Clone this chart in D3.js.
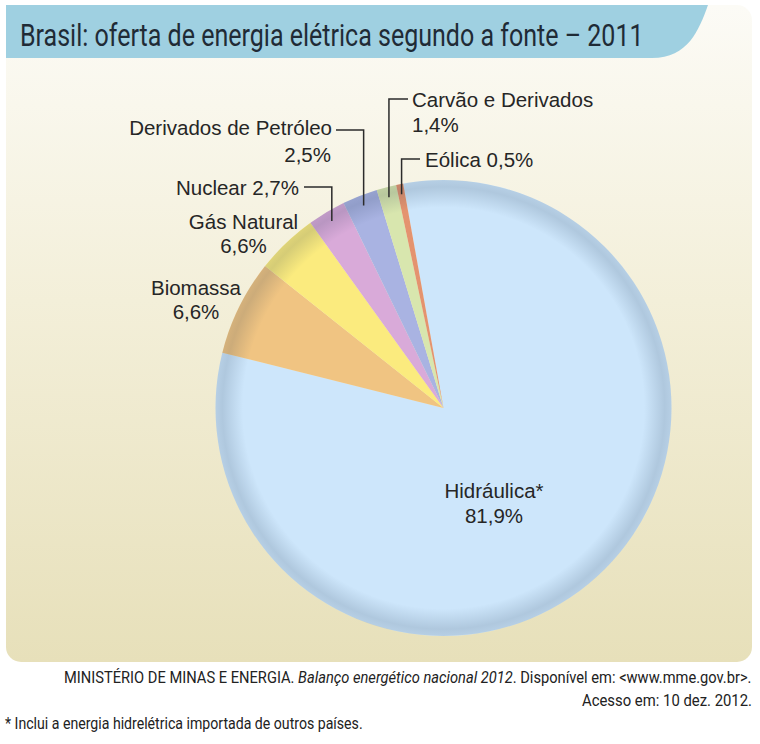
<!DOCTYPE html>
<html><head><meta charset="utf-8">
<script src="https://cdn.jsdelivr.net/npm/d3@7"></script>
<style>
html,body{margin:0;padding:0;background:#fff;}
svg{display:block;}
</style></head>
<body>
<script>
// ---- data ----
const sources = ["Hidráulica*", "Biomassa", "Gás Natural", "Nuclear", "Derivados de Petróleo", "Carvão e Derivados", "Eólica"];
const shares = [81.9, 6.8, 4.4, 2.7, 2.5, 1.4, 0.5];           // slice sizes
const shareLabels = ["81,9%", "6,6%", "6,6%", "2,7%", "2,5%", "1,4%", "0,5%"]; // printed texts
const colors = ["#cde6fb", "#f0c482", "#fbeb7e", "#d9aad9", "#a9b3e2", "#d8e6ae", "#e4936f"];
const title = "Brasil: oferta de energia elétrica segundo a fonte – 2011";
const sourceNote = ["MINISTÉRIO DE MINAS E ENERGIA. ", "Balanço energético nacional 2012", ". Disponível em: <www.mme.gov.br>."];
const accessNote = "Acesso em: 10 dez. 2012.";
const footNote = "* Inclui a energia hidrelétrica importada de outros países.";

// ---- layout ----
const W = 760, H = 744;
const cx = 443.5, cy = 408, R = 228;
const startDeg = -10.2;
const labelFont = "'Liberation Sans', Arimo, Arial, Helvetica, sans-serif";
const condFont = "'Roboto', 'DejaVu Sans', sans-serif";
const labelLayout = {
  "Hidráulica*": {lines: [[494, 498, "middle", 0], [494, 523, "middle", 1]]},
  "Biomassa": {lines: [[196, 295, "middle", 0], [196, 319, "middle", 1]]},
  "Gás Natural": {lines: [[243.5, 229, "middle", 0], [243.5, 253, "middle", 1]]},
  "Nuclear": {lines: [[299, 195, "end", 2]], elbow: [304, 187]},
  "Derivados de Petróleo": {lines: [[332, 135, "end", 0], [331, 162, "end", 1]], elbow: [336, 130]},
  "Carvão e Derivados": {lines: [[412, 107, "start", 0], [412, 132, "start", 1]], elbow: [408, 99]},
  "Eólica": {lines: [[425, 167, "start", 2]], elbow: [420, 159]}
};

const svg = d3.select("body").append("svg").attr("width", W).attr("height", H);
const defs = svg.append("defs");

const bg = defs.append("linearGradient").attr("id", "bg").attr("x1", 0).attr("y1", 0).attr("x2", 0).attr("y2", 1);
bg.append("stop").attr("offset", 0).attr("stop-color", "#fcfbf6");
bg.append("stop").attr("offset", 0.45).attr("stop-color", "#f3efd9");
bg.append("stop").attr("offset", 1).attr("stop-color", "#e7e0ba");

const rim = defs.append("radialGradient").attr("id", "rim").attr("gradientUnits", "userSpaceOnUse")
  .attr("cx", cx).attr("cy", cy).attr("r", R);
rim.append("stop").attr("offset", 0).attr("stop-color", "#1e3550").attr("stop-opacity", 0);
rim.append("stop").attr("offset", 0.88).attr("stop-color", "#1e3550").attr("stop-opacity", 0);
rim.append("stop").attr("offset", 0.97).attr("stop-color", "#1e3550").attr("stop-opacity", 0.17);
rim.append("stop").attr("offset", 1).attr("stop-color", "#1e3550").attr("stop-opacity", 0.13);

// fit a text horizontally into [x0, x0+width] by scaling along x
function fit(sel, x0, y, width) {
  const w = sel.node().getComputedTextLength();
  sel.attr("x", 0).attr("y", 0).attr("text-anchor", "start")
    .attr("transform", `translate(${x0},${y}) scale(${width / w},1)`);
  return sel;
}

// panel
svg.append("rect").attr("x", 6).attr("y", 5).attr("width", 746).attr("height", 657)
  .attr("rx", 15).attr("fill", "url(#bg)");

// title banner
svg.append("path").attr("d", "M6,5 H708 C699,30 688,58 652,58 H6 Z").attr("fill", "#9fd0e1");
fit(svg.append("text").attr("font-family", condFont).attr("font-size", 31)
  .attr("fill", "#1f2b36").text(title), 20, 46, 624);

// pie
const pie = d3.pie().sort(null).value(d => d.v)
  .startAngle(startDeg * Math.PI / 180).endAngle(startDeg * Math.PI / 180 + 2 * Math.PI);
const data = sources.map((s, i) => ({name: s, v: shares[i], color: colors[i], label: shareLabels[i]}));
const arcs = pie(data);
const arc = d3.arc().innerRadius(0).outerRadius(R);
const g = svg.append("g").attr("transform", `translate(${cx},${cy})`);
g.selectAll("path.slice").data(arcs).join("path").attr("class", "slice")
  .attr("d", arc).attr("fill", d => d.data.color);
svg.append("circle").attr("cx", cx).attr("cy", cy).attr("r", R).attr("fill", "url(#rim)");

// leaders and labels
arcs.forEach(a => {
  const L = labelLayout[a.data.name];
  if (L.elbow) {
    const mid = (a.startAngle + a.endAngle) / 2;
    const rl = R * 0.955;
    const px = cx + rl * Math.sin(mid), py = cy - rl * Math.cos(mid);
    svg.append("path").attr("d", `M${L.elbow[0]},${L.elbow[1]} H${px} V${py}`)
      .attr("fill", "none").attr("stroke", "#2b2b2b").attr("stroke-width", 1.5);
  }
  L.lines.forEach(([x, y, anchor, kind]) => {
    const txt = kind === 0 ? a.data.name : kind === 1 ? a.data.label : a.data.name + " " + a.data.label;
    svg.append("text").attr("x", x).attr("y", y).attr("text-anchor", anchor)
      .attr("font-family", labelFont).attr("font-size", 20.5).attr("fill", "#262626").text(txt);
  });
});

// notes
const s1 = svg.append("text").attr("font-family", condFont).attr("font-size", 16).attr("fill", "#222");
s1.append("tspan").text(sourceNote[0]);
s1.append("tspan").attr("font-style", "italic").text(sourceNote[1]);
s1.append("tspan").text(sourceNote[2]);
fit(s1, 752 - 688, 683, 688);
fit(svg.append("text").attr("font-family", condFont).attr("font-size", 16).attr("fill", "#222")
  .text(accessNote), 752 - 170, 706, 170);
fit(svg.append("text").attr("font-family", condFont).attr("font-size", 16).attr("fill", "#222")
  .text(footNote), 5, 729, 358);
</script>
</body></html>
